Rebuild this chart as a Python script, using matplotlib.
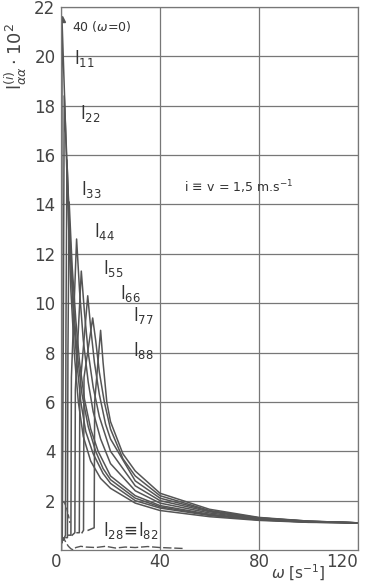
import matplotlib
matplotlib.use('Agg')
import matplotlib.pyplot as plt

w_40 = [0.2, 0.4, 1.5, 2.7, 4.0, 5.5, 7.0, 9.0, 12, 16, 20, 30, 40, 60, 80, 100, 120]
v_40 = [0.0, 21.5, 18.2, 14.2, 10.5, 7.8, 6.0, 4.6, 3.6, 2.9, 2.5, 1.9, 1.6, 1.35, 1.2, 1.12, 1.1]

w_11 = [0.5, 0.9, 1.3, 2.5, 3.6, 5.0, 6.5, 8.0, 10, 13, 17, 20, 30, 40, 60, 80, 100, 120]
v_11 = [0.3, 8.0, 18.4, 15.5, 12.5, 9.5, 7.5, 6.0, 4.8, 3.9, 3.1, 2.7, 2.0, 1.7, 1.4, 1.22, 1.13, 1.1]

w_22 = [1.0, 1.8, 2.0, 2.4, 3.5, 5.0, 6.5, 8.5, 11, 14, 17, 20, 30, 40, 60, 80, 100, 120]
v_22 = [0.4, 0.6, 9.0, 15.8, 13.0, 10.0, 8.0, 6.3, 5.0, 4.0, 3.3, 2.85, 2.1, 1.75, 1.42, 1.23, 1.13, 1.1]

w_33 = [2.0, 2.6, 2.8, 3.3, 4.5, 6.0, 7.5, 9.5, 12, 15, 20, 30, 40, 60, 80, 100, 120]
v_33 = [0.5, 0.5, 8.0, 14.1, 11.5, 9.3, 7.6, 6.1, 4.9, 4.0, 3.0, 2.2, 1.8, 1.45, 1.24, 1.14, 1.1]

w_44 = [3.0, 4.0, 4.2, 6.3, 7.5, 9.0, 11, 13, 16, 20, 30, 40, 60, 80, 100, 120]
v_44 = [0.6, 0.6, 7.0, 12.6, 10.5, 8.5, 6.8, 5.6, 4.5, 3.5, 2.4, 1.9, 1.5, 1.26, 1.15, 1.1]

w_55 = [4.5, 5.6, 5.8, 8.2, 9.5, 11, 13, 15.5, 20, 30, 40, 60, 80, 100, 120]
v_55 = [0.6, 0.7, 6.5, 11.3, 9.6, 8.0, 6.6, 5.4, 4.0, 2.6, 2.0, 1.55, 1.28, 1.16, 1.1]

w_66 = [6.5, 7.4, 7.6, 10.8, 12, 13.5, 15.5, 18, 20, 30, 40, 60, 80, 100, 120]
v_66 = [0.7, 0.7, 6.5, 10.3, 9.0, 7.6, 6.3, 5.1, 4.5, 2.8, 2.1, 1.58, 1.3, 1.16, 1.1]

w_77 = [8.5, 9.1, 9.3, 12.8, 14, 15.5, 17.5, 20, 25, 30, 40, 60, 80, 100, 120]
v_77 = [0.7, 0.8, 7.0, 9.4, 8.5, 7.2, 6.0, 4.9, 3.7, 3.0, 2.2, 1.6, 1.3, 1.17, 1.1]

w_88 = [11, 13.4, 13.6, 16.0, 17, 18.5, 20, 25, 30, 40, 60, 80, 100, 120]
v_88 = [0.8, 0.9, 6.0, 8.9, 7.6, 6.0, 5.2, 3.9, 3.2, 2.3, 1.65, 1.32, 1.17, 1.1]

# l28 = l82, close to zero
w_28 = [0, 1, 2, 3, 4, 5, 6, 8, 10, 14, 18, 22, 26, 30, 35, 40, 45, 50]
v_28 = [0.4, 0.5, 0.3, 0.15, 0.05, 0.0, 0.1, 0.15, 0.12, 0.1, 0.15, 0.08, 0.12, 0.1, 0.14, 0.1, 0.08, 0.06]

w_dash = [0.9, 1.5, 2.3, 3.0, 3.6]
v_dash = [1.96, 1.9, 1.7, 1.4, 1.1]

curves = [(w_40, v_40), (w_11, v_11), (w_22, v_22), (w_33, v_33), (w_44, v_44),
          (w_55, v_55), (w_66, v_66), (w_77, v_77), (w_88, v_88)]

col = '#555555'

fig = plt.figure(figsize=(3.69, 5.83), dpi=100)
ax = fig.add_axes([61 / 369, 33 / 583, 297 / 369, 543 / 583])

for w, v in curves:
    ax.plot(w, v, color=col, lw=1.1)
ax.plot(w_40[1], v_40[1], marker='^', ms=4, color=col)
ax.plot(w_28, v_28, color=col, lw=1.0, ls=(0, (6, 2)))
ax.plot(w_dash, v_dash, color=col, lw=1.0, ls=(0, (3, 2)))

ax.set_xlim(0, 120)
ax.set_ylim(0, 22)
ax.set_xticks([0, 40, 80, 120])
ax.set_yticks(range(2, 23, 2))
ax.grid(True, color='#777777', lw=0.9)
ax.tick_params(length=0, labelsize=12, colors='#444444')
ax.tick_params(axis='x', pad=2)
ax.tick_params(axis='y', pad=4)
ax.get_xticklabels()[0].set_ha('right')
ax.get_xticklabels()[-1].set_ha('right')
for s in ax.spines.values():
    s.set_color('#777777')
    s.set_linewidth(0.9)

# curve labels
ax.text(4.4, 21.2, r'40 ($\omega$=0)', fontsize=9, color='#333333', va='center')
lab = [('11', 5.2, 19.9), ('22', 7.6, 17.7), ('33', 8.0, 14.6), ('44', 13.3, 12.9),
       ('55', 17.0, 11.4), ('66', 24.0, 10.4), ('77', 29.0, 9.5), ('88', 29.0, 8.1)]
for sub, x, y in lab:
    ax.text(x, y, r'$\mathrm{l}_{' + sub + '}$', fontsize=12, color='#333333', va='center')
ax.text(17, 0.8, r'$\mathrm{l}_{28}\!\equiv\!\mathrm{l}_{82}$', fontsize=12, color='#333333', va='center')
ax.text(49.8, 14.7, r'i$\,\equiv\,$v = 1,5 m.s$^{-1}$', fontsize=9, color='#333333', va='center')

ax.text(96, -0.92, r'$\omega$ [s$^{-1}$]', fontsize=11, color='#444444',
        ha='center', va='center', clip_on=False)
fig.text(16 / 369, 1 - 57 / 583, r'$\mathrm{l}_{\alpha\alpha}^{(i)}\cdot 10^2$', rotation=90,
         fontsize=13, color='#444444', ha='center', va='center')

fig.savefig('out.png', dpi=100)
